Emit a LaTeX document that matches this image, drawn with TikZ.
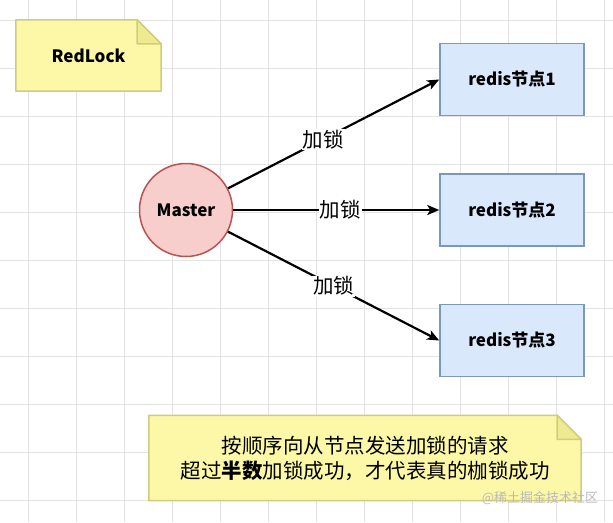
\documentclass[tikz,border=0pt]{standalone}
\usepackage{fontspec}
\setmainfont{Noto Sans CJK SC}
\usetikzlibrary{positioning,arrows.meta}
\definecolor{notefill}{HTML}{FCF8A8}
\definecolor{noteline}{HTML}{CFCC7E}
\definecolor{notefold}{HTML}{EEEA90}
\definecolor{masterfill}{HTML}{F8CECC}
\definecolor{masterline}{HTML}{B85450}
\definecolor{redisfill}{HTML}{DAE8FC}
\definecolor{redisline}{HTML}{7A96C2}
\definecolor{gridcol}{HTML}{E3E3E3}
\pgfdeclarelayer{grid}
\pgfdeclarelayer{paper}
\pgfsetlayers{grid,paper,main}

\begin{document}
\begin{tikzpicture}[x=1pt, y=-1pt, node distance=57pt]
	\tikzstyle{note} = [rectangle, inner sep=0pt, align=center]
	\tikzstyle{notepaper} = [draw=noteline, fill=notefill, line width=1.5pt, line join=round]
	\tikzstyle{master} = [circle, draw=masterline, fill=masterfill, line width=1.5pt, minimum size=93pt, font=\fontsize{17}{20}\selectfont\bfseries]
	\tikzstyle{redis} = [rectangle, draw=redisline, fill=redisfill, line width=1.5pt, minimum width=144pt, minimum height=72pt, font=\fontsize{17}{20}\selectfont\bfseries]
	\tikzstyle{line} = [draw, line width=2.2pt, -{Stealth[length=12pt,width=10pt,inset=3pt]}]
	\tikzstyle{lock} = [fill=white, inner sep=1pt, font=\fontsize{20.5}{24}\selectfont]
	
	\useasboundingbox (0,0) rectangle (613,522);
	\begin{pgfonlayer}{grid}
		\foreach \x in {28,76,...,604} \draw[gridcol, line width=0.8pt] (\x,0) -- (\x,522);
		\foreach \y in {20,68,...,500} \draw[gridcol, line width=0.8pt] (0,\y) -- (613,\y);
	\end{pgfonlayer}
	
	\node [note, minimum width=145pt, minimum height=71pt, font=\fontsize{17}{20}\selectfont\bfseries] (title) at (88.5,55.5) {RedLock};
	\node [master] (master) at (186,210) {Master};
	\node [redis] (redis2) at (512,210) {redis节点2};
	\node [redis, above=of redis2] (redis1) {redis节点1};
	\node [redis, below=of redis2] (redis3) {redis节点3};
	\node [note, minimum width=432pt, minimum height=85pt, font=\fontsize{20.5}{25}\selectfont] (summary) at (365,458) {按顺序向从节点发送加锁的请求\\超过\textbf{半数}加锁成功，才代表真的枷锁成功};
	\node [font=\fontsize{13}{15}\selectfont, text=gray!55] (mark) at (540,498) {@稀土掘金技术社区};
	
	\begin{pgfonlayer}{paper}
		\foreach \n in {title,summary} {
			\draw [notepaper] (\n.south west) -- (\n.north west) -- ([xshift=-24pt]\n.north east) -- ([yshift=-24pt]\n.north east) -- (\n.south east) -- cycle;
			\draw [notepaper, fill=notefold] ([xshift=-24pt]\n.north east) -- ([xshift=-24pt,yshift=-24pt]\n.north east) -- ([yshift=-24pt]\n.north east) -- cycle;
		}
	\end{pgfonlayer}
	
	\path [line] (master) -- node [lock, pos=0.45] {加锁} (redis1.west);
	\path [line] (master) -- node [lock, pos=0.52] {加锁} (redis2.west);
	\path [line] (master) -- node [lock, pos=0.5] {加锁} (redis3.west);
	
\end{tikzpicture}
\end{document}
